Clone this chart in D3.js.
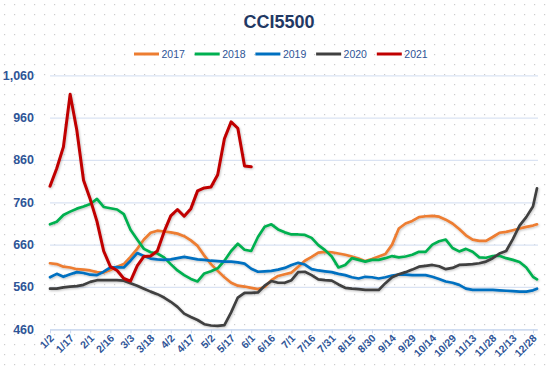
<!DOCTYPE html>
<html>
<head>
<meta charset="utf-8">
<script src="https://cdn.jsdelivr.net/npm/d3@7"></script>
<style>
  body { margin: 0; background: #fff; }
  text { font-family: "Liberation Sans", Arial, sans-serif; }
</style>
</head>
<body>
<div id="chart"></div>
<script>
const width = 550
const height = 373

// day offsets from 1/2 for every sample
const days = [0, 5, 10, 15, 20, 25, 30, 35, 40, 45, 50, 55, 60, 65, 70, 75, 80, 85, 90, 95,
  100, 105, 110, 115, 120, 125, 130, 135, 140, 145, 150, 155, 160, 165, 170, 175, 180, 185, 190, 195,
  200, 205, 210, 215, 220, 225, 230, 235, 240, 245, 250, 255, 260, 265, 270, 275, 280, 285, 290, 295,
  300, 305, 310, 315, 320, 325, 330, 335, 340, 345, 350, 355, 360, 363]

const tickDays = [0, 15, 30, 45, 60, 75, 90, 105, 120, 135, 150, 165, 180, 195, 210, 225, 240, 255, 270, 285, 300, 315, 330, 345, 360]
const tickLabels = ['1/2', '1/17', '2/1', '2/16', '3/3', '3/18', '4/2', '4/17', '5/2', '5/17', '6/1', '6/16', '7/1', '7/16', '7/31', '8/15', '8/30', '9/14', '9/29', '10/14', '10/29', '11/13', '11/28', '12/13', '12/28']
const yTicks = [460, 560, 660, 760, 860, 960, 1060]

const v2017 = [616, 614, 608, 606, 602, 601, 599, 595, 594, 600, 608, 614, 631, 650, 672, 688, 693, 691, 689, 686,
  680, 670, 657, 634, 614, 598, 583, 570, 563, 561, 558, 555, 560, 576, 586, 590, 594, 608, 622, 631,
  641, 643, 642, 639, 636, 632, 627, 621, 626, 632, 638, 660, 698, 710, 716, 725, 727, 728, 726, 719,
  710, 697, 682, 672, 669, 669, 678, 688, 690, 694, 698, 702, 705, 708]
const v2018 = [708, 714, 730, 738, 745, 750, 756, 768, 749, 746, 743, 732, 695, 672, 650, 642, 639, 630, 614, 599,
  588, 579, 573, 592, 597, 604, 622, 645, 662, 648, 645, 678, 702, 708, 696, 689, 684, 684, 683, 676,
  659, 647, 632, 606, 612, 628, 624, 620, 624, 624, 628, 633, 630, 632, 636, 643, 643, 660, 668, 672,
  652, 644, 650, 643, 630, 629, 633, 634, 628, 624, 619, 606, 584, 578]
const v2019 = [583, 591, 584, 590, 595, 593, 589, 588, 596, 606, 607, 606, 622, 640, 633, 627, 625, 624, 625, 628,
  631, 628, 625, 624, 622, 621, 620, 620, 618, 615, 603, 596, 597, 598, 601, 605, 612, 617, 613, 602,
  599, 597, 595, 591, 588, 583, 580, 584, 583, 580, 583, 587, 589, 589, 588, 588, 588, 584, 579, 573,
  570, 565, 556, 553, 553, 553, 553, 552, 551, 550, 549, 549, 552, 556]
const v2020 = [556, 556, 559, 561, 562, 565, 572, 576, 576, 576, 576, 575, 569, 563, 556, 549, 543, 535, 525, 513,
  497, 489, 482, 472, 469, 468, 470, 500, 535, 546, 546, 547, 563, 574, 570, 570, 576, 595, 596, 588,
  578, 576, 575, 566, 558, 556, 555, 553, 553, 553, 569, 583, 590, 595, 601, 608, 610, 612, 609, 602,
  605, 612, 613, 614, 616, 620, 628, 639, 645, 673, 705, 725, 750, 793]
const v2021 = [798, 840, 891, 1015, 930, 812, 767, 715, 645, 608, 599, 580, 574, 610, 632, 633, 645, 690, 728, 743,
  727, 745, 787, 794, 796, 825, 910, 950, 935, 846, 844]

const seriesNames = ['2017', '2018', '2019', '2020', '2021']
const seriesValues = [v2017, v2018, v2019, v2020, v2021]
const seriesColors = ['#ed7d31', '#00b050', '#0070c0', '#404040', '#c00000']

const svg = d3.select('#chart')
  .append('svg')
  .attr('width', width)
  .attr('height', height)

const defs = svg.append('defs')

// dotted background
const pattern = defs.append('pattern')
  .attr('id', 'dots')
  .attr('width', 10)
  .attr('height', 10)
  .attr('patternUnits', 'userSpaceOnUse')
pattern.append('rect')
  .attr('x', 4).attr('y', 4)
  .attr('width', 1.2).attr('height', 1.2)
  .attr('fill', '#cccccc')

// soft shadow under the lines
defs.append('filter')
  .attr('id', 'shadow')
  .attr('x', '-5%').attr('y', '-5%')
  .attr('width', '110%').attr('height', '110%')
  .append('feDropShadow')
  .attr('dx', 0.8).attr('dy', 1)
  .attr('stdDeviation', 0.8)
  .attr('flood-color', '#000')
  .attr('flood-opacity', 0.25)

svg.append('rect').attr('width', width).attr('height', height).attr('fill', '#fff')
svg.append('rect').attr('width', width).attr('height', height).attr('fill', 'url(#dots)')

const x = d3.scaleLinear().domain([0, 363]).range([50, 537])
const y = d3.scaleLinear().domain([460, 1060]).range([329.3, 75.3])

// gridlines + y labels
const yAxis = svg.append('g')
  .attr('transform', 'translate(50,0)')
  .call(d3.axisLeft(y).tickValues(yTicks).tickFormat(d3.format(',')).tickSize(-488).tickPadding(16))
yAxis.select('.domain').remove()
yAxis.selectAll('line').attr('stroke', '#dae3f3').attr('stroke-width', 1.2)
yAxis.selectAll('text')
  .attr('fill', '#2f5597')
  .attr('font-size', 12.5)
  .attr('font-weight', 'bold')

// x axis
const xAxis = svg.append('g')
  .attr('transform', `translate(0,${y(460)})`)
  .call(d3.axisBottom(x).tickValues(tickDays).tickFormat((d, i) => tickLabels[i]).tickSize(4).tickSizeOuter(0))
xAxis.select('.domain').attr('stroke', '#c9d7ee').attr('stroke-width', 1.2)
xAxis.selectAll('line').attr('stroke', '#c9d7ee')
xAxis.selectAll('text')
  .attr('fill', '#2f5597')
  .attr('font-size', 10.5)
  .attr('font-weight', 'bold')
  .attr('text-anchor', 'end')
  .attr('x', -4)
  .attr('y', 6)
  .attr('dy', '0.35em')
  .attr('transform', 'rotate(-45)')

// lines
const line = d3.line()
  .x((d, i) => x(days[i]))
  .y((d) => y(d))

svg.append('g')
  .attr('filter', 'url(#shadow)')
  .selectAll('path.series')
  .data(seriesValues)
  .enter()
  .append('path')
  .attr('class', 'series')
  .attr('d', line)
  .attr('fill', 'none')
  .attr('stroke', (d, i) => seriesColors[i])
  .attr('stroke-width', (d, i) => i === 4 ? 3 : 2.7)
  .attr('stroke-linejoin', 'round')
  .attr('stroke-linecap', 'round')

// title
svg.append('text')
  .attr('x', 279)
  .attr('y', 28)
  .attr('text-anchor', 'middle')
  .attr('font-size', 18)
  .attr('font-weight', 'bold')
  .attr('fill', '#1f3864')
  .text('CCI5500')

// legend
const legend = svg.append('g').selectAll('g')
  .data(seriesNames)
  .enter()
  .append('g')
  .attr('transform', (d, i) => `translate(${134 + i * 60.7},54)`)
legend.append('line')
  .attr('x1', 0).attr('x2', 25)
  .attr('stroke', (d, i) => seriesColors[i])
  .attr('stroke-width', 3)
legend.append('text')
  .attr('x', 27.5)
  .attr('dy', '0.35em')
  .attr('font-size', 10.5)
  .attr('fill', '#2f5597')
  .text((d) => d)
</script>
</body>
</html>
